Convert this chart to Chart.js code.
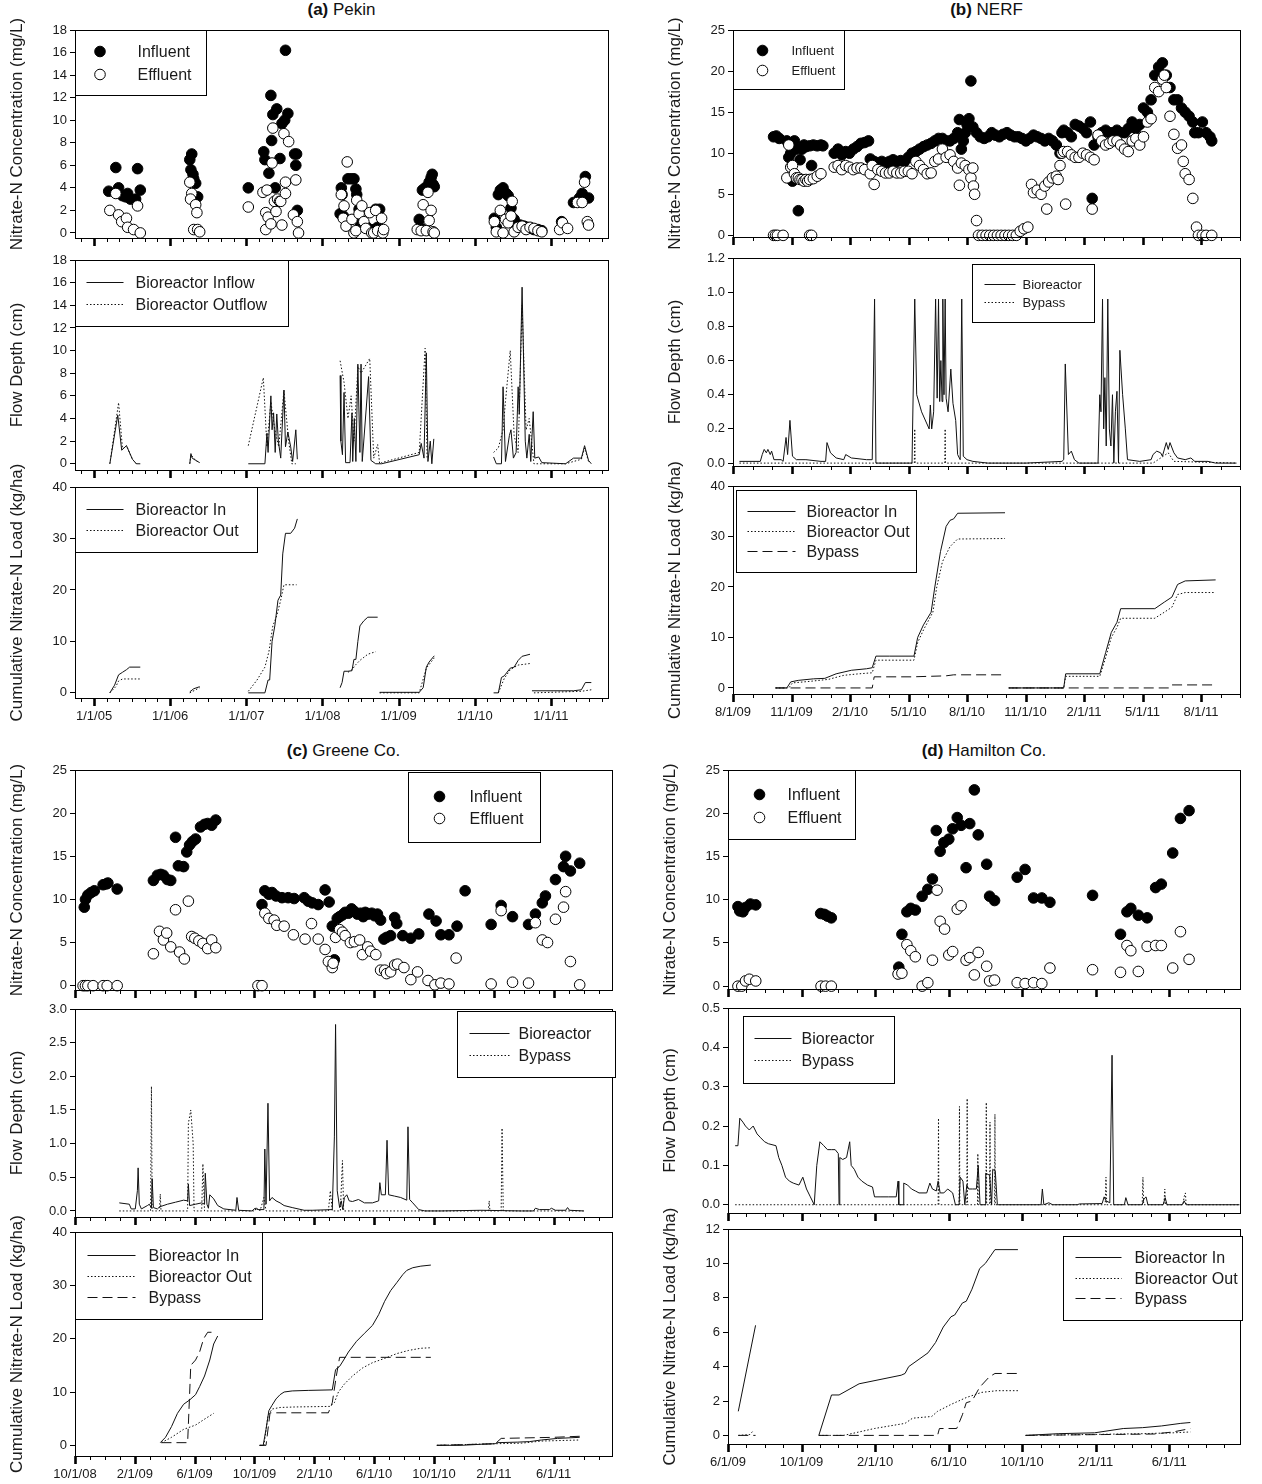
<!DOCTYPE html>
<html>
<head>
<meta charset="utf-8">
<script src="https://cdn.jsdelivr.net/npm/chart.js@4.4.1/dist/chart.umd.min.js"></script>
<style>
  body { margin: 0; background: #fff; width: 1262px; height: 1484px; position: relative; overflow: hidden;
         font-family: 'Liberation Sans', Arial, sans-serif; }
  canvas { position: absolute; }
  .ttl { position: absolute; font-size: 17px; line-height: 20px; color: #111; text-align: center; }
</style>
</head>
<body>
<div class="ttl" style="left:75px;top:0;width:533px"><b>(a)</b> Pekin</div>
<div class="ttl" style="left:733px;top:0;width:507px"><b>(b)</b> NERF</div>
<div class="ttl" style="left:75px;top:741px;width:537px"><b>(c)</b> Greene Co.</div>
<div class="ttl" style="left:728px;top:741px;width:512px"><b>(d)</b> Hamilton Co.</div>
<script>
'use strict'

// x values are months counted from the left edge of each panel's date axis

// ---------- (a) Pekin ----------
let pekinDates = ['1/1/05', '1/1/06', '1/1/07', '1/1/08', '1/1/09', '1/1/10', '1/1/11'];
let pekinConcTicks = [0, 2, 4, 6, 8, 10, 12, 14, 16, 18];
let pekinFlowTicks = [0, 2, 4, 6, 8, 10, 12, 14, 16, 18];
let pekinLoadTicks = [0, 10, 20, 30, 40];

let pekinInfluent = [[5.31,3.7],[6.43,5.8],[6.87,4.0],[7.49,3.3],[7.99,3.2],[8.30,3.5],[8.74,3.0],[9.55,3.0],[9.86,5.7],[10.29,3.8],
  [18.09,6.5],[18.40,7.0],[18.27,5.6],[18.59,5.2],[18.71,4.8],[19.02,4.4],[19.33,3.2],
  [27.31,4.0],[29.75,7.2],[29.93,6.5],[30.56,5.3],[30.87,12.2],[30.99,8.2],[31.18,10.5],[31.55,4.0],[31.80,11.0],[32.30,6.6],[32.61,9.7],[33.05,10.0],[33.17,16.2],[33.55,10.6],[34.61,7.0],[34.80,6.0],[34.92,7.0],[35.04,2.0],
  [41.97,4.0],[42.09,3.4],[41.78,1.7],[42.28,1.5],[42.40,1.3],[43.02,4.8],[43.52,4.8],[43.96,4.8],[44.27,3.9],[44.40,3.4],[44.77,2.1],[44.90,1.0],[45.21,1.0],[46.02,0.5],[47.08,0.3],[47.39,2.1],[47.70,0.5],[48.01,2.1],[48.32,0.2],
  [54.25,1.2],[54.56,0.4],[54.75,3.8],[55.18,4.0],[55.81,4.5],[56.12,4.9],[56.30,5.2],[56.43,4.3],[56.62,4.1],
  [66.09,1.3],[66.40,0.5],[66.72,3.4],[67.03,3.8],[67.46,4.0],[67.96,3.5],[68.27,3.3],[68.71,2.2],[69.21,1.2],[69.52,0.6],[70.15,0.7],[70.77,0.6],[71.21,0.5],[71.71,0.4],[72.33,0.3],[72.96,0.3],[73.57,0.2],
  [76.69,1.0],[78.56,2.7],[79.50,3.1],[80.43,5.0],[79.93,3.5],[80.93,3.1]];
let pekinEffluent = [[5.49,2.0],[6.43,3.5],[6.87,1.6],[7.36,1.0],[8.11,1.3],[8.30,0.5],[9.23,0.3],[9.86,2.4],[10.29,0.0],
  [18.09,4.5],[18.40,3.5],[18.21,3.0],[18.71,0.3],[19.02,2.5],[19.21,1.8],[19.33,0.3],[19.65,0.1],
  [27.31,2.3],[29.62,3.6],[30.25,3.8],[30.06,1.8],[30.43,1.4],[30.06,0.3],[30.87,0.8],[31.06,6.2],[31.43,2.8],[31.68,1.9],[31.93,3.0],[32.24,2.8],[32.42,2.8],[32.61,0.7],[31.18,9.3],[32.93,8.8],[33.17,3.5],[33.17,4.5],[33.67,8.1],[34.42,1.6],[34.80,4.7],[35.04,1.0],[35.23,0.0],
  [41.97,3.4],[42.40,2.4],[42.28,1.3],[42.71,0.6],[42.90,6.3],[43.65,1.2],[43.96,0.0],[44.27,0.2],[44.40,2.9],[44.77,1.7],[45.21,2.4],[45.52,1.0],[45.83,0.4],[46.45,1.8],[46.77,0.0],[47.08,0.0],[47.39,2.0],[47.70,0.2],[48.32,1.3],[48.51,0.0],[48.64,0.3],
  [53.94,0.3],[54.56,0.2],[54.87,2.5],[55.37,0.2],[55.62,3.6],[55.81,1.1],[56.12,2.0],[56.43,0.1],[56.62,0.0],
  [66.09,1.0],[66.40,0.1],[67.03,2.0],[67.46,0.0],[67.84,1.2],[68.27,0.9],[68.71,1.5],[68.90,2.8],[69.21,0.1],[69.84,0.5],[70.46,0.6],[71.09,0.3],[71.71,0.5],[72.33,0.4],[72.96,0.2],[73.57,0.1],
  [76.38,0.3],[76.82,0.9],[77.63,0.4],[79.18,2.7],[79.93,2.7],[80.31,4.5],[80.74,1.0],[80.93,0.7]];
let pekinInflow = [[5.49,0],[6.74,4.3],[7.36,1.2],[8.11,1.6],[9.05,0.4],[9.67,0.0],[10.29,0.0], null,
  [18.09,0],[18.27,0.9],[18.46,0.5],[19.02,0.3],[19.65,0.1], null,
  [27.31,0],[29.93,0],[30.25,2.7],[30.43,1.0],[30.87,6.0],[31.06,3.0],[31.30,4.5],[31.55,1.0],[31.80,4.4],[32.05,2.0],[32.42,0.5],[32.93,6.5],[33.17,1.5],[33.55,2.8],[33.99,1.5],[34.30,0.2],[34.80,3.0],[35.04,0.4], null,
  [41.78,7.8],[41.90,2.0],[42.15,0.8],[42.40,6.3],[42.65,0.1],[43.34,0.1],[43.65,4.5],[43.77,0.2],[44.02,4.0],[44.27,0.2],[44.58,8.8],[44.90,1.0],[45.08,8.8],[45.27,0.2],[46.27,7.7],[46.64,0.3],[47.39,0.0],[48.32,0.0],[54.25,0.8],[54.56,1.8],[55.00,0.5],[55.37,9.8],[55.62,0.2],[55.99,2.0],[56.24,0.0],[56.55,2.2], null,
  [65.97,0.6],[66.40,0.0],[67.21,0.0],[67.46,6.8],[67.84,0.2],[68.46,2.5],[68.71,3.0],[69.09,0.5],[69.52,1.0],[69.84,6.8],[70.02,4.4],[70.46,15.6],[70.96,2.0],[71.21,0.5],[71.58,2.6],[71.83,0.2],[72.21,4.6],[72.46,0.5],[73.08,0.6],[73.57,0.1],[77.31,0.0],[78.56,0.5],[79.81,0.5],[80.31,1.6],[80.93,0.3],[81.37,0.0]];
let pekinOutflow = [[5.49,0],[6.87,5.4],[7.49,1.3],[8.11,1.6],[9.05,0.4],[9.67,0.0], null,
  [18.09,0],[18.27,0.8],[19.02,0.3],[19.65,0.1], null,
  [27.31,1.6],[29.68,7.6],[30.25,1.5],[30.87,5.5],[31.49,3.0],[32.11,1.5],[32.93,6.5],[33.67,2.0],[34.17,0.0],[34.80,0.0], null,
  [41.78,9.1],[42.40,7.2],[43.02,4.0],[43.52,6.0],[43.96,2.0],[44.58,8.6],[45.08,8.0],[46.45,9.3],[47.08,0.5],[47.70,1.7],[48.01,0.0],[48.32,0.1],[54.25,1.0],[55.18,10.2],[55.49,0.5], null,
  [65.97,1.0],[66.72,1.4],[67.46,3.0],[67.84,5.5],[68.59,10.0],[69.21,2.5],[69.84,1.0],[70.46,14.0],[71.09,3.0],[71.58,4.0],[72.33,0.0],[73.57,0.0],[77.31,0.0],[79.81,0.4],[80.31,1.4],[80.93,0.2]];
let pekinLoadIn = [[5.49,0],[6.24,1.5],[6.87,3.5],[7.49,4.0],[8.11,4.5],[8.61,5.0],[10.29,5.0], null,
  [18.09,0.2],[18.71,0.8],[19.65,1.2], null,
  [27.31,0],[29.93,0],[30.43,2.5],[30.68,2.5],[31.06,10],[31.49,13],[31.99,18],[32.42,19],[32.74,27],[33.17,31],[33.99,31],[34.61,32],[35.04,33.8], null,
  [41.78,1.0],[42.09,2.0],[42.40,4.2],[43.02,4.2],[43.65,4.3],[43.96,6.5],[44.27,6.5],[44.58,10],[44.90,13],[45.52,14],[46.14,14.7],[47.70,14.7], null,
  [48.01,0.1],[54.25,0.1],[54.87,1.0],[55.37,5.0],[55.81,6.0],[56.62,7.2], null,
  [65.97,0],[66.72,0],[67.21,3.0],[67.65,3.3],[68.59,4.8],[69.21,5.0],[69.84,6.3],[70.46,7.1],[71.71,7.5], null,
  [72.02,0.4],[78.56,0.4],[79.81,0.6],[80.43,2.0],[81.37,2.0]];
let pekinLoadOut = [[5.49,0],[6.43,1.2],[6.87,2.3],[7.49,2.7],[10.29,2.7], null,
  [18.09,0],[19.65,1.0], null,
  [27.31,0.3],[28.69,2.5],[29.93,5],[30.56,8],[31.18,13],[31.80,15],[32.42,18],[32.93,21],[34.92,21], null,
  [43.02,4.0],[43.65,4.5],[44.27,5.5],[44.90,6.3],[46.14,7.5],[47.39,8.0], null,
  [48.01,0],[54.25,0],[55.37,4.8],[56.62,6.8], null,
  [66.72,0],[67.65,2.8],[68.59,4.5],[69.84,5.4],[71.71,5.7], null,
  [72.33,0],[79.81,0.3],[81.37,0.6]];

// ---------- (b) NERF ----------
let nerfDates = ['8/1/09', '11/1/09', '2/1/10', '5/1/10', '8/1/10', '11/1/10', '2/1/11', '5/1/11', '8/1/11'];
let nerfConcTicks = [0, 5, 10, 15, 20, 25];
let nerfFlowTicks = [0, 0.2, 0.4, 0.6, 0.8, 1.0, 1.2];
let nerfLoadTicks = [0, 10, 20, 30, 40];

let nerfInfluent = [[2.08,12.0],[2.22,12.1],[2.37,11.8],[2.76,11.5],[2.86,9.5],[2.96,10.0],[3.05,6.6],[3.15,11.5],[3.25,10.5],[3.35,3.0],[3.44,9.2],[3.54,10.5],[3.64,11.0],[3.74,10.8],[3.93,10.9],[4.03,8.5],[4.12,11.0],[4.32,10.9],[4.51,11.0],[4.61,10.9],
  [5.19,10.0],[5.39,10.5],[5.58,9.8],[5.78,10.2],[5.97,10.0],[6.17,10.5],[6.36,10.8],[6.56,11.2],[6.75,11.3],[6.95,11.5],[7.04,9.3],
  [7.24,9.0],[7.43,8.8],[7.63,9.0],[7.82,8.8],[8.02,9.0],[8.21,9.2],[8.40,9.0],[8.60,9.1],[8.79,9.0],[8.99,9.5],[9.18,10.0],[9.38,10.2],[9.57,10.5],[9.77,10.8],[9.96,11.0],[10.16,11.2],[10.35,11.5],[10.54,11.8],[10.74,11.8],[10.93,11.5],[11.13,11.5],[11.32,11.8],[11.52,12.5],[11.61,14.1],[11.71,10.5],[11.81,11.5],[11.91,12.5],[12.00,13.5],[12.10,14.2],[12.20,18.8],[12.30,13.2],[12.49,12.5],[12.68,12.0],[12.88,11.8],[13.07,12.0],[13.27,12.5],[13.46,12.2],[13.66,12.0],[13.85,12.3],[14.05,12.5],[14.24,12.2],[14.44,12.0],[14.63,12.0],[14.82,11.8],[15.02,11.5],[15.21,11.8],[15.41,12.2],[15.60,12.0],[15.80,11.8],[15.99,11.5],[16.19,11.8],[16.38,11.5],[16.58,11.0],[16.77,10.0],[16.87,12.5],[16.96,12.8],[17.16,12.5],[17.35,12.0],[17.55,13.5],[17.74,13.3],[17.94,13.0],[18.13,12.5],[18.33,13.8],[18.42,4.5],[18.52,11.0],[18.72,12.0],[18.91,12.5],[19.11,12.8],[19.30,12.5],[19.49,12.5],[19.69,12.8],[19.88,12.5],[20.08,12.5],[20.27,13.0],[20.47,13.8],[20.66,13.0],[20.86,13.5],[21.05,15.5],[21.25,15.0],[21.44,16.5],[21.63,19.5],[21.83,20.5],[22.02,21.0],[22.22,19.5],[22.41,18.0],[22.61,16.5],[22.80,16.5],[23.00,15.5],[23.19,15.0],[23.39,14.5],[23.58,13.8],[23.68,12.5],[23.87,12.5],[24.07,13.8],[24.26,12.5],[24.46,12.0],[24.55,11.5]];
let nerfEffluent = [[2.08,0],[2.18,0],[2.28,0],[2.57,0],[3.93,0],[4.03,0],
  [2.76,7.0],[2.86,11.0],[2.96,8.3],[3.05,8.5],[3.15,7.5],[3.25,7.0],[3.35,7.0],[3.44,6.8],[3.54,6.8],[3.64,6.6],[3.74,6.8],[3.83,6.6],[3.93,6.8],[4.12,6.9],[4.32,7.2],[4.51,7.5],
  [5.19,8.3],[5.39,8.5],[5.58,8.0],[5.78,8.5],[5.97,8.3],[6.17,8.0],[6.36,8.2],[6.56,8.2],[6.75,8.0],[7.04,7.5],[7.14,8.5],[7.24,6.2],[7.43,8.0],[7.63,7.8],[7.82,7.6],[8.02,7.6],[8.21,7.8],[8.40,7.6],[8.60,7.6],[8.79,7.8],[8.99,7.8],[9.18,7.5],[9.38,9.0],[9.57,8.5],[9.77,8.0],[9.96,7.5],[10.16,7.6],[10.35,9.0],[10.54,9.3],[10.74,10.5],[10.93,9.5],[11.13,9.8],[11.32,9.0],[11.52,8.2],[11.61,6.1],[11.71,8.8],[11.91,8.5],[12.10,8.0],[12.20,7.0],[12.30,8.2],[12.33,6.0],[12.39,5.0],[12.49,1.8],
  [12.59,0],[12.78,0],[12.98,0],[13.17,0],[13.37,0],[13.56,0],[13.75,0],[13.95,0],[14.14,0],[14.34,0],[14.53,0],[14.73,0.5],[14.92,0.8],[15.12,1.0],
  [15.31,6.2],[15.41,5.2],[15.60,5.5],[15.80,5.0],[15.99,6.0],[16.09,3.2],[16.19,6.5],[16.38,7.0],[16.58,7.2],[16.67,6.8],[16.77,8.5],[16.87,10.0],[16.96,10.2],[17.06,3.8],[17.16,10.2],[17.35,9.8],[17.55,9.5],[17.74,9.5],[17.94,10.0],[18.13,9.8],[18.33,9.5],[18.42,3.2],[18.52,9.2],[18.72,12.2],[18.91,11.5],[19.11,11.0],[19.30,11.2],[19.49,11.5],[19.69,11.5],[19.88,11.0],[20.08,10.5],[20.27,10.2],[20.47,11.5],[20.66,11.8],[20.86,11.0],[21.05,12.0],[21.25,13.8],[21.44,14.2],[21.63,18.0],[21.83,17.5],[22.02,19.0],[22.12,19.5],[22.22,18.0],[22.41,14.5],[22.61,12.3],[22.80,10.6],[23.00,11.0],[23.09,9.0],[23.19,7.5],[23.39,6.8],[23.58,4.5],[23.77,1.0],[23.87,0],[24.07,0],[24.26,0],[24.55,0]];
let nerfBioreactorFlow = [[0.33,0.01],[1.40,0.01],[1.50,0.05],[1.60,0.08],[1.71,0.06],[1.79,0.08],[1.91,0.05],[1.98,0.07],[2.10,0.02],[2.47,0.02],[2.57,0.01],[2.72,0.15],[2.80,0.05],[2.92,0.25],[3.05,0.04],[3.25,0.02],[3.74,0.02],[4.51,0.01],[4.75,0.01],[4.82,0.12],[5.00,0.06],[5.29,0.03],[5.68,0.02],[5.78,0.05],[6.07,0.03],[6.85,0.02],[7.14,0.02],[7.26,0.96],[7.33,0.0],[8.02,0.0],[9.18,0.0],[9.32,0.96],[9.42,0.4],[9.67,0.3],[10.06,0.2],[10.12,0.34],[10.19,0.2],[10.29,0.3],[10.39,0.96],[10.47,0.38],[10.54,0.96],[10.60,0.36],[10.66,0.6],[10.72,0.36],[10.76,0.96],[10.82,0.4],[10.88,0.96],[10.93,0.38],[11.03,0.3],[11.17,0.55],[11.28,0.35],[11.42,0.25],[11.52,0.05],[11.65,0.02],[11.73,0.96],[11.81,0.04],[12.00,0.02],[12.30,0.01],[13.07,0.0],[15.02,0.0],[16.87,0.01],[16.96,0.02],[17.04,0.58],[17.20,0.05],[17.35,0.07],[17.51,0.02],[17.74,0.0],[18.72,0.0],[18.81,0.4],[18.87,0.3],[18.95,0.96],[19.01,0.2],[19.07,0.5],[19.14,0.1],[19.22,0.96],[19.30,0.2],[19.38,0.1],[19.46,0.4],[19.53,0.0],[19.61,0.3],[19.69,0.42],[19.77,0.0],[19.84,0.66],[19.98,0.4],[20.12,0.2],[20.23,0.02],[20.86,0.01],[21.44,0.02],[21.54,0.05],[21.73,0.07],[21.93,0.06],[22.02,0.04],[22.22,0.12],[22.32,0.08],[22.41,0.12],[22.61,0.06],[22.80,0.03],[23.19,0.02],[23.48,0.03],[23.68,0.01],[24.36,0.01],[24.75,0.0],[25.82,0.0]];
let nerfBypassFlow = [[0.33,0],[9.30,0],[9.32,0.2],[9.34,0],[10.86,0],[10.88,0.2],[10.90,0],[21.54,0],[22.32,0.06],[22.61,0.01],[25.82,0]];
let nerfLoadIn = [[2.18,0],[2.76,0],[2.96,1.2],[3.35,1.5],[4.12,1.8],[4.71,1.9],[5.29,2.8],[6.07,3.5],[6.85,3.8],[7.14,4.0],[7.33,6.3],[8.02,6.3],[9.28,6.3],[9.47,10],[9.77,12.5],[10.16,15],[10.35,20],[10.64,27],[10.93,32],[11.13,33.2],[11.32,33.5],[11.52,34.6],[13.95,34.7], null,
  [14.14,0],[16.96,0],[17.06,2.8],[18.81,2.8],[19.11,7],[19.40,11],[19.69,13],[19.88,15.7],[21.63,15.7],[22.12,17],[22.51,18],[22.80,20.5],[23.19,21.2],[24.75,21.4]];
let nerfLoadOut = [[2.18,0],[2.86,0],[3.05,1.0],[3.93,1.3],[4.90,1.7],[5.68,2.5],[6.46,2.8],[7.14,3.0],[7.33,5.5],[9.28,5.5],[9.47,9],[9.77,11.5],[10.25,15],[10.45,20],[10.74,25],[11.13,28],[11.52,29.5],[13.95,29.6], null,
  [14.14,0],[16.96,0],[17.06,2.3],[18.81,2.3],[19.11,6],[19.40,10],[19.69,12],[19.88,13.8],[21.63,13.8],[22.12,15],[22.51,16],[22.80,18.5],[23.19,18.9],[24.75,18.9]];
let nerfLoadBypass = [[2.18,0],[7.14,0],[7.24,2.2],[9.18,2.2],[10.93,2.4],[11.32,2.6],[13.95,2.6], null,
  [14.14,0],[22.41,0],[22.51,0.6],[24.75,0.6]];

// ---------- (c) Greene Co. ----------
let greeneDates = ['10/1/08', '2/1/09', '6/1/09', '10/1/09', '2/1/10', '6/1/10', '10/1/10', '2/1/11', '6/1/11'];
let greeneConcTicks = [0, 5, 10, 15, 20, 25];
let greeneFlowTicks = [0, 0.5, 1.0, 1.5, 2.0, 2.5, 3.0];
let greeneLoadTicks = [0, 10, 20, 30, 40];

let greeneInfluent = [[0.62,9.1],[0.70,10.0],[0.86,10.5],[1.08,10.8],[1.29,11.0],[1.88,11.7],[2.10,11.8],[2.20,11.9],[2.82,11.2],
  [5.24,12.2],[5.51,12.8],[5.73,12.9],[5.91,12.8],[6.18,12.3],[6.40,12.2],[6.72,17.2],[6.91,13.9],[7.26,13.8],[7.47,15.5],[7.66,16.3],[7.85,16.7],[8.06,17.0],[8.39,18.4],[8.66,18.7],[8.87,18.8],[9.14,18.6],[9.41,19.2],
  [12.50,9.4],[12.69,11.0],[12.96,10.6],[13.17,10.8],[13.44,10.4],[13.84,10.2],[14.25,10.2],[14.65,10.1],[15.32,10.2],[15.59,9.8],[15.86,9.6],[16.26,9.4],[16.72,11.1],[16.99,9.7],[17.20,6.9],[17.34,3.0],[17.53,7.8],[17.69,8.0],[17.88,8.2],[18.06,8.5],[18.28,8.4],[18.49,8.9],[18.68,8.6],[18.87,8.3],[19.09,8.4],[19.27,8.0],[19.41,8.5],[19.62,8.3],[19.84,8.4],[20.03,8.1],[20.22,8.3],[20.43,7.6],[20.65,5.4],[20.83,5.6],[21.10,5.8],[21.37,7.9],[21.51,7.2],[21.91,5.8],[22.45,5.5],[22.98,6.0],[23.66,8.3],[24.14,7.5],[24.46,5.9],[25.00,5.9],[25.54,6.9],[26.08,11.0],
  [27.82,7.1],[28.49,9.3],[29.25,8.0],[30.32,7.1],[30.78,8.3],[31.24,9.6],[31.45,10.4],[32.12,12.3],[32.66,13.8],[32.80,15.0],[33.12,13.3],[33.74,14.2]];
let greeneEffluent = [[0.54,0],[0.70,0],[0.86,0],[1.21,0],[1.88,0],[2.15,0],[2.82,0],
  [5.24,3.7],[5.65,6.3],[5.91,5.3],[6.13,6.1],[6.40,4.5],[6.72,8.8],[6.99,3.9],[7.31,3.1],[7.58,9.8],[7.80,5.7],[8.01,5.5],[8.28,5.2],[8.55,4.9],[8.87,4.3],[9.14,5.3],[9.41,4.4],
  [12.23,0],[12.50,0],[12.69,8.4],[12.96,7.8],[13.31,7.6],[13.49,7.0],[13.98,6.9],[14.60,5.9],[15.38,5.4],[15.81,7.2],[16.26,5.4],[16.72,4.2],[16.94,2.8],[17.20,2.1],[17.26,2.6],[17.42,5.6],[17.69,6.5],[17.88,6.2],[18.06,5.8],[18.41,5.0],[18.68,5.1],[19.03,5.3],[19.22,3.6],[19.57,4.5],[19.76,4.0],[20.11,3.6],[20.43,1.8],[20.70,1.8],[20.83,1.4],[21.10,1.6],[21.37,2.4],[21.56,2.5],[21.99,2.1],[22.45,0.7],[22.90,1.6],[23.60,0.6],[24.06,0.1],[24.46,0.3],[25.00,0.2],[25.48,3.2],
  [27.82,0.2],[28.49,8.7],[29.25,0.4],[30.32,0.3],[30.78,7.3],[31.24,5.3],[31.59,5.0],[32.12,7.7],[32.66,9.1],[32.80,10.9],[33.12,2.8],[33.74,0.1]];
let greeneBioreactorFlow = [[2.96,0.12],[3.63,0.10],[3.76,0.03],[4.03,0.03],[4.17,0.3],[4.22,0.64],[4.30,0.1],[4.44,0.03],[4.84,0.08],[4.97,0.1],[5.11,0.04],[5.16,0.48],[5.24,0.05],[5.51,0.03],[5.65,0.06],[6.18,0.10],[6.72,0.13],[7.26,0.16],[7.53,0.15],[7.58,0.4],[7.66,0.08],[8.06,0.10],[8.47,0.12],[8.66,0.10],[8.71,0.56],[8.82,0.10],[8.92,0.04],[9.01,0.24],[9.27,0.18],[9.54,0.08],[9.95,0.03],[10.75,0.01],[10.83,0.2],[10.94,0.01],[11.83,0.0],[12.04,0.04],[12.23,0.02],[12.63,0.02],[12.69,0.92],[12.77,0.1],[12.90,1.6],[13.01,0.15],[13.17,0.2],[13.44,0.15],[13.71,0.12],[13.98,0.08],[14.52,0.05],[15.32,0.01],[15.86,0.01],[17.20,0.02],[17.34,1.1],[17.42,2.77],[17.53,0.3],[17.69,0.05],[17.80,0.15],[17.90,0.02],[18.01,0.2],[18.17,0.24],[18.33,0.15],[18.55,0.14],[18.95,0.17],[19.35,0.12],[19.89,0.12],[20.30,0.15],[20.38,0.42],[20.48,0.24],[20.75,0.24],[20.86,1.05],[20.97,0.24],[21.37,0.22],[21.77,0.2],[22.18,0.16],[22.26,1.25],[22.37,0.17],[22.58,0.12],[22.98,0.02],[23.39,0.0],[24.46,0.0],[27.15,0.01],[29.84,0.0],[30.65,0.0],[30.78,0.04],[31.05,0.02],[31.72,0.02],[31.85,0.04],[32.12,0.01],[32.80,0.01],[32.93,0.05],[33.06,0.01],[34.01,0.0]];
let greeneBypassFlow = [[2.96,0],[5.05,0],[5.11,1.85],[5.16,0],[5.65,0],[5.70,0.25],[5.75,0],[7.53,0],[7.58,1.3],[7.74,1.5],[7.90,1.0],[7.96,0],[8.47,0],[8.55,0.7],[8.66,0],[12.04,0],[12.10,0.05],[12.37,0],[12.63,0.2],[12.77,0],[16.94,0],[17.07,0.3],[17.20,0],[17.74,0],[17.88,0.75],[17.96,0],[27.63,0],[27.69,0.15],[27.74,0],[28.49,0],[28.55,1.23],[28.63,0],[34.01,0]];
let greeneLoadIn = [[5.70,0.5],[6.05,1.5],[6.45,3.5],[6.85,6.0],[7.26,7.7],[7.66,8.5],[8.06,9.5],[8.33,11],[8.66,13],[9.01,16],[9.27,19],[9.54,20.5], null,
  [12.31,0],[12.58,0],[12.77,3],[12.96,6.5],[13.17,7.5],[13.44,8.7],[13.71,9.5],[13.98,10.0],[14.52,10.2],[15.59,10.3],[17.20,10.4],[17.42,14.2],[17.69,14.8],[17.96,16],[18.28,17.5],[18.82,19.5],[19.35,21],[19.89,22.5],[20.30,24.5],[20.70,27],[21.10,29],[21.51,30.5],[21.91,32],[22.18,32.8],[22.58,33.3],[23.12,33.6],[23.79,33.8], null,
  [24.19,0],[25.81,0],[27.15,0.2],[28.09,0.3],[28.23,0.5],[29.57,0.6],[30.38,0.7],[31.18,1.0],[32.26,1.3],[33.74,1.5]];
let greeneLoadOut = [[5.78,0.5],[6.45,1.5],[7.26,3.0],[8.06,3.8],[8.60,4.8],[9.27,6.0], null,
  [12.37,0],[12.63,0],[12.90,5.5],[13.17,6.8],[13.71,7.1],[14.78,7.2],[17.07,7.3],[17.34,8],[17.61,10],[18.01,11.5],[18.55,13],[19.22,14.5],[19.89,15.5],[20.70,16.3],[21.51,17.2],[22.31,17.8],[23.12,18.2],[23.79,18.3], null,
  [24.19,0],[28.09,0.3],[29.84,0.4],[31.18,0.8],[33.74,1.0]];
let greeneLoadBypass = [[5.78,0.5],[7.53,0.5],[7.74,15],[8.06,16],[8.33,17.5],[8.60,20],[8.87,21.2],[9.41,21.2], null,
  [12.37,0],[12.77,0],[13.04,6.1],[16.94,6.1],[17.20,8],[17.47,13],[17.69,16.5],[23.79,16.5], null,
  [24.19,0],[28.09,0.3],[28.49,1.3],[31.99,1.5],[33.74,1.7]];

// ---------- (d) Hamilton Co. ----------
let hamiltonDates = ['6/1/09', '10/1/09', '2/1/10', '6/1/10', '10/1/10', '2/1/11', '6/1/11'];
let hamiltonConcTicks = [0, 5, 10, 15, 20, 25];
let hamiltonFlowTicks = [0, 0.1, 0.2, 0.3, 0.4, 0.5];
let hamiltonLoadTicks = [0, 2, 4, 6, 8, 10, 12];

let hamiltonInfluent = [[0.54,9.2],[0.64,8.7],[0.81,8.6],[0.95,9.1],[1.22,9.5],[1.51,9.4],[5.04,8.4],[5.25,8.3],[5.41,8.1],[5.62,7.9],
  [9.29,2.2],[9.46,6.0],[9.73,8.6],[9.94,9.0],[10.19,8.8],[10.56,10.4],[10.87,11.2],[11.12,12.4],[11.33,18.0],[11.54,15.6],[11.74,16.6],[12.01,17.0],[12.22,18.2],[12.47,19.5],[12.68,18.6],[12.95,13.7],[13.15,18.8],[13.40,22.7],[13.61,17.5],[14.07,14.1],[14.23,10.4],[14.50,9.9],
  [15.73,12.6],[16.16,13.5],[16.62,10.2],[17.07,10.2],[17.51,9.7],[19.83,10.5],[21.35,6.0],[21.70,8.6],[21.91,9.0],[22.32,8.2],[22.80,7.9],[23.26,11.4],[23.57,11.8],[24.19,15.4],[24.61,19.4],[25.08,20.3]];
let hamiltonEffluent = [[0.54,0.0],[0.75,0.0],[0.95,0.6],[1.16,0.8],[1.51,0.6],[5.06,0.0],[5.31,0.0],[5.62,0.0],
  [9.25,1.4],[9.46,1.5],[9.73,4.8],[9.94,4.1],[10.19,3.4],[10.56,0.0],[10.87,0.4],[11.12,3.0],[11.37,11.1],[11.54,7.5],[11.78,6.6],[12.01,3.6],[12.22,4.0],[12.47,8.9],[12.68,9.3],[12.95,3.0],[13.15,3.3],[13.40,1.3],[13.61,3.9],[14.07,2.3],[14.23,0.6],[14.50,0.7],
  [15.73,0.4],[16.16,0.3],[16.62,0.4],[17.07,0.3],[17.51,2.1],[19.83,1.9],[21.35,1.6],[21.70,4.7],[21.91,4.1],[22.32,1.7],[22.80,4.6],[23.26,4.7],[23.57,4.7],[24.19,2.1],[24.61,6.3],[25.08,3.1]];
let hamiltonBioreactorFlow = [[0.39,0.15],[0.54,0.15],[0.64,0.22],[0.81,0.21],[0.95,0.2],[1.16,0.19],[1.37,0.2],[1.58,0.18],[1.78,0.17],[1.99,0.16],[2.20,0.155],[2.61,0.15],[2.76,0.12],[2.93,0.1],[3.13,0.07],[3.34,0.06],[3.55,0.055],[3.86,0.05],[4.07,0.07],[4.27,0.04],[4.48,0.02],[4.69,0.0],[4.83,0.1],[5.00,0.16],[5.21,0.15],[5.41,0.14],[5.62,0.14],[5.83,0.14],[6.00,0.13],[6.04,0.0],[6.08,0.12],[6.24,0.115],[6.45,0.12],[6.62,0.16],[6.70,0.1],[6.87,0.09],[7.07,0.07],[7.28,0.06],[7.59,0.05],[7.86,0.045],[7.97,0.02],[8.32,0.02],[8.73,0.02],[9.15,0.02],[9.25,0.06],[9.29,0.0],[9.52,0.0],[9.56,0.055],[9.77,0.05],[9.98,0.04],[10.19,0.035],[10.39,0.03],[10.81,0.03],[10.98,0.055],[11.12,0.04],[11.33,0.035],[11.43,0.06],[11.54,0.03],[11.74,0.03],[11.95,0.04],[12.22,0.03],[12.37,0.0],[12.57,0.0],[12.63,0.07],[12.78,0.06],[12.88,0.0],[12.99,0.05],[13.09,0.04],[13.30,0.04],[13.51,0.04],[13.61,0.1],[13.71,0.0],[13.98,0.0],[14.02,0.08],[14.23,0.075],[14.34,0.0],[14.40,0.09],[14.54,0.085],[14.65,0.0],[17.03,0.0],[17.10,0.04],[17.18,0.0],[17.45,0.005],[17.66,0.0],[19.00,0.0],[19.11,0.002],[20.35,0.003],[20.46,0.02],[20.56,0.01],[20.77,0.005],[20.89,0.38],[20.98,0.0],[21.56,0.0],[21.64,0.018],[21.76,0.0],[22.53,0.0],[22.63,0.015],[22.74,0.02],[22.84,0.0],[23.67,0.0],[23.78,0.018],[23.88,0.0],[24.71,0.0],[24.81,0.01],[24.92,0.0],[27.82,0.0]];
let hamiltonBypassFlow = [[0.39,0],[11.43,0],[11.45,0.22],[11.47,0],[12.57,0],[12.59,0.25],[12.61,0],[12.99,0],[13.01,0.27],[13.03,0],[13.57,0],[13.59,0.13],[13.61,0],[14.03,0],[14.05,0.26],[14.07,0],[14.23,0],[14.25,0.21],[14.27,0],[14.50,0],[14.52,0.23],[14.54,0],[20.52,0],[20.56,0.07],[20.60,0],[22.53,0],[22.57,0.07],[22.61,0],[23.71,0],[23.76,0.04],[23.80,0],[24.75,0],[24.81,0.02],[24.88,0.03],[24.92,0],[27.82,0]];
let hamiltonLoadIn = [[0.56,1.4],[1.50,6.4], null,
  [4.94,0],[5.63,2.35],[6.04,2.35],[7.13,3.0],[9.42,3.5],[9.63,3.6],[9.83,4.0],[10.88,4.8],[11.29,5.4],[11.71,6.3],[12.13,6.9],[12.33,7.0],[12.75,7.7],[12.96,7.8],[13.27,8.5],[13.69,9.7],[14.00,10.0],[14.52,10.8],[15.77,10.8], null,
  [16.19,0],[17.96,0.1],[19.94,0.15],[21.50,0.4],[22.54,0.45],[23.58,0.55],[24.63,0.7],[25.15,0.75]];
let hamiltonLoadOut = [[0.56,0],[1.19,0.05],[1.40,0.3], null,
  [4.94,0],[6.29,0],[7.96,0.4],[9.63,0.7],[10.04,1.0],[11.08,1.1],[11.40,1.4],[12.13,1.8],[12.96,2.2],[13.79,2.5],[14.63,2.6],[15.77,2.6], null,
  [16.19,0],[19.42,0.05],[22.54,0.1],[24.21,0.15],[25.15,0.2]];
let hamiltonLoadBypass = [[0.56,0],[1.50,0], null,
  [4.94,0],[11.40,0],[11.50,0.4],[12.44,0.4],[12.75,1.2],[12.96,1.9],[13.27,2.0],[13.69,2.8],[14.21,3.4],[14.52,3.6],[15.77,3.6], null,
  [16.19,0],[20.46,0.05],[23.17,0.08],[24.21,0.2],[25.15,0.4]];

// ---------- helpers ----------
let fontFamily = "'Liberation Sans', Arial, sans-serif";

function pts(arr) {
  let out = [];
  let lastX = 0;
  arr.forEach(function (p) {
    if (p === null) {
      out.push({ x: lastX + 0.001, y: null });
    } else {
      out.push({ x: p[0], y: p[1] });
      lastX = p[0];
    }
  });
  return out;
}

function dots(label, data, filled) {
  return {
    label: label, data: pts(data), showLine: false, clip: false,
    order: filled ? 1 : 0,
    pointRadius: 5.3, pointHoverRadius: 5.3,
    pointBackgroundColor: filled ? '#000' : '#fff', pointBorderColor: '#000', pointBorderWidth: 1
  };
}

function line(label, data, dash) {
  return {
    label: label, data: pts(data), showLine: true, spanGaps: false, tension: 0,
    pointRadius: 0, borderColor: '#111', borderWidth: 1, borderDash: dash || []
  };
}

let DOT = [1.5, 2];
let DASH = [10, 5];

// frame, date tick marks and boxed legend (one plugin per chart so its settings stay plain)
function framePlugin(lg, isMajor) {
  return {
    id: 'frame',
    afterDatasetsDraw: function (chart) {
      let ctx = chart.ctx;
      let a = chart.chartArea;
      let x = chart.scales.x;
      ctx.save();
      ctx.strokeStyle = '#000';
      ctx.lineWidth = 1;
      ctx.strokeRect(a.left + 0.5, a.top + 0.5, a.right - a.left, a.bottom - a.top);
      x.ticks.forEach(function (t) {
        let px = Math.round(x.getPixelForValue(t.value)) + 0.5;
        let major = isMajor(t.value);
        ctx.lineWidth = major ? 2.6 : 1;
        ctx.beginPath();
        ctx.moveTo(px, a.bottom);
        ctx.lineTo(px, a.bottom + (major ? 8 : 4));
        ctx.stroke();
      });

      if (lg) {
        let bx = Math.round(a.left + lg.x) + 0.5;
        let by = Math.round(a.top + lg.y) + 0.5;
        ctx.fillStyle = '#fff';
        ctx.fillRect(bx, by, lg.w, lg.h);
        ctx.lineWidth = 1;
        ctx.strokeStyle = '#000';
        ctx.strokeRect(bx, by, lg.w, lg.h);
        ctx.font = lg.size + 'px ' + fontFamily;
        ctx.textBaseline = 'middle';
        ctx.textAlign = 'left';
        chart.data.datasets.forEach(function (ds, i) {
          let ry = by + lg.rows[i];
          if (ds.showLine) {
            ctx.strokeStyle = '#111';
            ctx.lineWidth = 1;
            ctx.setLineDash(ds.borderDash || []);
            ctx.beginPath();
            ctx.moveTo(bx + lg.mark[0], ry);
            ctx.lineTo(bx + lg.mark[1], ry);
            ctx.stroke();
            ctx.setLineDash([]);
          } else {
            ctx.beginPath();
            ctx.arc(bx + (lg.mark[0] + lg.mark[1]) / 2, ry, ds.pointRadius, 0, Math.PI * 2);
            ctx.fillStyle = ds.pointBackgroundColor;
            ctx.fill();
            ctx.strokeStyle = '#000';
            ctx.lineWidth = 1;
            ctx.stroke();
          }
          ctx.fillStyle = '#1a1a1a';
          ctx.fillText(ds.label, bx + lg.text, ry + 1);
        });
      }
      ctx.restore();
    }
  };
}

function makeChart(o) {
  let padTop = 45, padBottom = 45, padRight = 22, yW = 72;
  let xH = o.labels ? 30 : 8;
  let w = (o.R - o.L) + yW + padRight;
  let h = padTop + (o.B - o.T) + xH + padBottom;
  let canvas = document.createElement('canvas');
  canvas.width = w;
  canvas.height = h;
  canvas.style.left = (o.L - yW) + 'px';
  canvas.style.top = (o.T - padTop) + 'px';
  canvas.style.width = w + 'px';
  canvas.style.height = h + 'px';
  document.body.appendChild(canvas);

  let ax = o.axis;
  let isMajor = function (v) {
    return v >= ax.first && Math.abs((v - ax.first) % ax.major) < 1e-6;
  };
  let dateLabels = o.labels || [];

  new Chart(canvas.getContext('2d'), {
    type: 'scatter',
    data: { datasets: o.datasets },
    plugins: [framePlugin(o.legend, isMajor)],
    options: {
      responsive: false,
      animation: false,
      events: [],
      layout: { padding: { top: padTop, bottom: padBottom, left: 0, right: padRight } },
      plugins: {
        legend: { display: false },
        tooltip: { enabled: false }
      },
      scales: {
        x: {
          type: 'linear', min: ax.min, max: ax.max,
          afterBuildTicks: function (scale) {
            let t = [];
            for (let v = ax.from; v <= ax.max + 1e-6; v += ax.minor) t.push({ value: v });
            scale.ticks = t;
          },
          afterFit: function (scale) { scale.height = xH; },
          grid: { display: false, drawTicks: true, tickLength: 7 },
          border: { display: false },
          ticks: {
            display: dateLabels.length > 0, autoSkip: false, maxRotation: 0, padding: 4,
            color: '#1a1a1a', font: { size: 13, family: fontFamily },
            callback: function (v) {
              if (!isMajor(v)) return '';
              return dateLabels[Math.round((v - ax.first) / ax.major)] || '';
            }
          }
        },
        y: {
          min: o.ymin, max: o.ticks[o.ticks.length - 1],
          afterBuildTicks: function (scale) {
            scale.ticks = o.ticks.map(function (v) { return { value: v }; });
          },
          afterFit: function (scale) { scale.width = yW; },
          grid: { display: true, drawOnChartArea: false, drawTicks: true, tickLength: 5, color: '#000' },
          border: { display: false },
          ticks: {
            padding: 3, color: '#1a1a1a', font: { size: 13, family: fontFamily },
            callback: function (v) { return o.decimals ? Number(v).toFixed(o.decimals) : String(v); }
          },
          title: {
            display: true, text: o.ytitle, color: '#1a1a1a',
            font: { size: 17, family: fontFamily }, padding: { top: 4, bottom: 0 }
          }
        }
      }
    }
  });
}

let concTitle = 'Nitrate-N Concentration (mg/L)';
let flowTitle = 'Flow Depth (cm)';
let loadTitle = 'Cumulative Nitrate-N Load (kg/ha)';

let pekinAxis = { min: 0, max: 84, first: 3, major: 12, minor: 2, from: 1 };
let nerfAxis = { min: 0, max: 26, first: 0, major: 3, minor: 1, from: 0 };
let greeneAxis = { min: 0, max: 35.9, first: 0, major: 4, minor: 1, from: 0 };
let hamiltonAxis = { min: 0, max: 27.85, first: 0, major: 4, minor: 1, from: 0 };

// (a) Pekin
makeChart({ L: 75, R: 608, T: 30, B: 238, axis: pekinAxis, ymin: -0.45, ticks: pekinConcTicks, ytitle: concTitle,
  datasets: [dots('Influent', pekinInfluent, true), dots('Effluent', pekinEffluent, false)],
  legend: { x: 0, y: 0, w: 131, h: 65, rows: [21, 44], mark: [18, 31], text: 62, size: 16 } });
makeChart({ L: 75, R: 608, T: 260, B: 470, axis: pekinAxis, ymin: -0.55, ticks: pekinFlowTicks, ytitle: flowTitle,
  datasets: [line('Bioreactor Inflow', pekinInflow), line('Bioreactor Outflow', pekinOutflow, DOT)],
  legend: { x: 0, y: 0, w: 213, h: 66, rows: [22, 44], mark: [11, 48], text: 60, size: 16 } });
makeChart({ L: 75, R: 608, T: 487, B: 698, axis: pekinAxis, ymin: -1, ticks: pekinLoadTicks, ytitle: loadTitle, labels: pekinDates,
  datasets: [line('Bioreactor In', pekinLoadIn), line('Bioreactor Out', pekinLoadOut, DOT)],
  legend: { x: 0, y: 0, w: 182, h: 65, rows: [22, 43], mark: [11, 48], text: 60, size: 16 } });

// (b) NERF
makeChart({ L: 733, R: 1240, T: 30, B: 237, axis: nerfAxis, ymin: -0.2, ticks: nerfConcTicks, ytitle: concTitle,
  datasets: [dots('Influent', nerfInfluent, true), dots('Effluent', nerfEffluent, false)],
  legend: { x: 0, y: 0, w: 111, h: 59, rows: [20, 40], mark: [23, 35], text: 58, size: 13 } });
makeChart({ L: 733, R: 1240, T: 258, B: 466, axis: nerfAxis, ymin: -0.017, ticks: nerfFlowTicks, decimals: 1, ytitle: flowTitle,
  datasets: [line('Bioreactor', nerfBioreactorFlow), line('Bypass', nerfBypassFlow, DOT)],
  legend: { x: 239, y: 6, w: 122, h: 58, rows: [20, 38], mark: [12, 43], text: 50, size: 13 } });
makeChart({ L: 733, R: 1240, T: 486, B: 694, axis: nerfAxis, ymin: -1.2, ticks: nerfLoadTicks, ytitle: loadTitle, labels: nerfDates,
  datasets: [line('Bioreactor In', nerfLoadIn), line('Bioreactor Out', nerfLoadOut, DOT), line('Bypass', nerfLoadBypass, DASH)],
  legend: { x: 3, y: 4, w: 180, h: 82, rows: [21, 41, 61], mark: [11, 59], text: 70, size: 16 } });

// (c) Greene Co.
makeChart({ L: 75, R: 612, T: 770, B: 990, axis: greeneAxis, ymin: -0.5, ticks: greeneConcTicks, ytitle: concTitle,
  datasets: [dots('Influent', greeneInfluent, true), dots('Effluent', greeneEffluent, false)],
  legend: { x: 333, y: 2, w: 132, h: 70, rows: [24, 46], mark: [25, 37], text: 61, size: 16 } });
makeChart({ L: 75, R: 612, T: 1009, B: 1217, axis: greeneAxis, ymin: -0.09, ticks: greeneFlowTicks, decimals: 1, ytitle: flowTitle,
  datasets: [line('Bioreactor', greeneBioreactorFlow), line('Bypass', greeneBypassFlow, DOT)],
  legend: { x: 382, y: 2, w: 158, h: 66, rows: [22, 44], mark: [12, 52], text: 61, size: 16 } });
makeChart({ L: 75, R: 612, T: 1232, B: 1456, axis: greeneAxis, ymin: -2, ticks: greeneLoadTicks, ytitle: loadTitle, labels: greeneDates,
  datasets: [line('Bioreactor In', greeneLoadIn), line('Bioreactor Out', greeneLoadOut, DOT), line('Bypass', greeneLoadBypass, DASH)],
  legend: { x: 0, y: 0, w: 187, h: 87, rows: [23, 44, 65], mark: [12, 60], text: 73, size: 16 } });

// (d) Hamilton Co.
makeChart({ L: 728, R: 1240, T: 770, B: 989, axis: hamiltonAxis, ymin: -0.33, ticks: hamiltonConcTicks, ytitle: concTitle,
  datasets: [dots('Influent', hamiltonInfluent, true), dots('Effluent', hamiltonEffluent, false)],
  legend: { x: 0, y: 0, w: 127, h: 69, rows: [24, 47], mark: [25, 37], text: 59, size: 16 } });
makeChart({ L: 728, R: 1240, T: 1008, B: 1213, axis: hamiltonAxis, ymin: -0.021, ticks: hamiltonFlowTicks, decimals: 1, ytitle: flowTitle,
  datasets: [line('Bioreactor', hamiltonBioreactorFlow), line('Bypass', hamiltonBypassFlow, DOT)],
  legend: { x: 15, y: 8, w: 151, h: 67, rows: [22, 44], mark: [11, 48], text: 58, size: 16 } });
makeChart({ L: 728, R: 1240, T: 1229, B: 1444, axis: hamiltonAxis, ymin: -0.5, ticks: hamiltonLoadTicks, ytitle: loadTitle, labels: hamiltonDates,
  datasets: [line('Bioreactor In', hamiltonLoadIn), line('Bioreactor Out', hamiltonLoadOut, DOT), line('Bypass', hamiltonLoadBypass, DASH)],
  legend: { x: 335, y: 7, w: 179, h: 84, rows: [21, 42, 62], mark: [12, 58], text: 71, size: 16 } });
</script>
</body>
</html>
